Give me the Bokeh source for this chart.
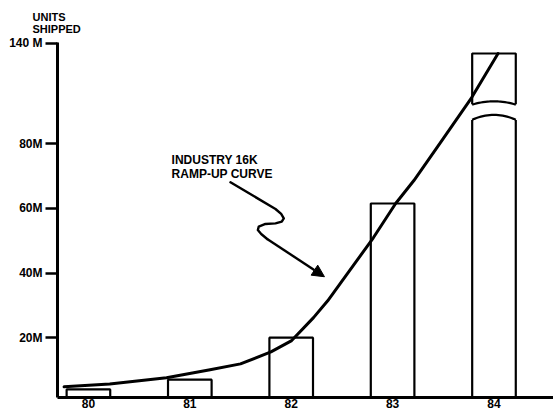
from bokeh.plotting import figure
from bokeh.models import Range1d, FixedTicker, Label, Arrow, NormalHead, ColumnDataSource
from bokeh.embed import file_html
from bokeh.resources import INLINE

# ---------------- data ----------------
years = [80, 81, 82, 83, 84]
year_labels = ["80", "81", "82", "83", "84"]
units_shipped_m = [4, 7, 20, 61.5, 134]          # bar heights, millions

# industry 16K ramp-up curve (year, millions)
curve_years = [79.76, 80.21, 80.77, 81.2, 81.5, 81.8, 82.0, 82.22, 82.36,
               82.49, 82.81, 83.03, 83.21, 83.47, 83.78, 84.04]
curve_units_m = [4.8, 5.7, 7.6, 10.1, 11.9, 15.6, 19.0, 26.2, 31.4,
                 37.0, 50.9, 61.5, 68.6, 80.5, 107.6, 134]

y_tick_values_m = [20, 40, 60, 80, 140]
y_tick_labels = ["20M", "40M", "60M", "80M", "140 M"]

# ---------------- broken-axis mapping ----------------
BREAK_AT = 80


def to_axis(v):
    if v <= BREAK_AT:
        return v
    return BREAK_AT + (v - BREAK_AT) * 31 / 60


# ---------------- figure ----------------
FONT = "Liberation Sans"
p = figure(width=553, height=410,
           x_range=Range1d(79.695, 84.587), y_range=Range1d(1.5, 111.3),
           toolbar_location=None, output_backend="svg",
           min_border_left=57, min_border_right=0,
           min_border_top=42, min_border_bottom=0)
p.outline_line_color = None
p.background_fill_color = "white"
p.border_fill_color = "white"
p.grid.visible = False

# axis title
p.title.text = "UNITS\nSHIPPED"
p.title.align = "left"
p.title.vertical_align = "top"
p.title.offset = -25
p.title.standoff = 12
p.title.text_font = FONT
p.title.text_font_style = "bold"
p.title.text_font_size = "11px"
p.title.text_color = "black"

# x axis
p.xaxis.ticker = FixedTicker(ticks=years)
p.xaxis.major_label_overrides = {y: lab for y, lab in zip(years, year_labels)}
p.xaxis.axis_line_width = 3
p.xaxis.axis_line_color = "black"
p.xaxis.major_tick_out = 0
p.xaxis.major_tick_in = 0
p.xaxis.minor_tick_out = 0
p.xaxis.minor_tick_in = 0
p.xaxis.major_label_standoff = 1
p.xaxis.major_label_text_font = FONT
p.xaxis.major_label_text_font_style = "bold"
p.xaxis.major_label_text_font_size = "12px"
p.xaxis.major_label_text_color = "black"

# y axis
y_ticks = [to_axis(v) for v in y_tick_values_m]
p.yaxis.ticker = FixedTicker(ticks=y_ticks)
p.yaxis.major_label_overrides = {t: lab for t, lab in zip(y_ticks, y_tick_labels)}
p.yaxis.axis_line_width = 3
p.yaxis.axis_line_color = "black"
p.yaxis.major_tick_out = 12
p.yaxis.major_tick_in = 0
p.yaxis.major_tick_line_width = 2.5
p.yaxis.minor_tick_out = 0
p.yaxis.minor_tick_in = 0
p.yaxis.major_label_standoff = 3
p.yaxis.major_label_text_font = FONT
p.yaxis.major_label_text_font_style = "bold"
p.yaxis.major_label_text_font_size = "12px"
p.yaxis.major_label_text_color = "black"

# ---------------- bars ----------------
BAR_W = 0.43
bar_src = ColumnDataSource(dict(
    left=[y - BAR_W / 2 for y in years],
    right=[y + BAR_W / 2 for y in years],
    top=[to_axis(v) for v in units_shipped_m],
    bottom=[0] * len(years),
))
p.quad(left="left", right="right", top="top", bottom="bottom", source=bar_src,
       fill_color="white", line_color="black", line_width=2.2)

# break marks on bars that exceed the break
LOW_EDGE, LOW_MID = 87.4, 88.9
HIGH_EDGE, HIGH_MID = 92.1, 93.1
N = 20
gap_xs, gap_ys, arc_xs, arc_ys = [], [], [], []
for yr, v in zip(years, units_shipped_m):
    if v <= BREAK_AT:
        continue
    x0, x1 = yr - BAR_W / 2, yr + BAR_W / 2
    ts = [-1 + 2 * i / N for i in range(N + 1)]
    xs = [yr + t * BAR_W / 2 for t in ts]
    low = [LOW_EDGE + (LOW_MID - LOW_EDGE) * (1 - t * t) for t in ts]
    high = [HIGH_EDGE + (HIGH_MID - HIGH_EDGE) * (1 - t * t) for t in ts]
    pad = 0.03
    gx = [x0 - pad] + xs + [x1 + pad, x1 + pad] + xs[::-1] + [x0 - pad]
    gy = [LOW_EDGE - 0.3] + low + [LOW_EDGE - 0.3, HIGH_EDGE + 0.3] + high[::-1] + [HIGH_EDGE + 0.3]
    gap_xs.append(gx)
    gap_ys.append(gy)
    arc_xs += [xs, xs]
    arc_ys += [low, high]

p.patches(gap_xs, gap_ys, fill_color="white", line_color=None)
p.multi_line(arc_xs, arc_ys, line_color="black", line_width=2.2)

# ---------------- ramp-up curve ----------------
p.line(curve_years, [to_axis(v) for v in curve_units_m],
       line_color="black", line_width=3, line_join="round", line_cap="round")

# ---------------- annotation ----------------
squiggle_x = [81.401, 81.845, 81.901, 81.927, 81.907, 81.845, 81.746, 81.680,
              81.671, 81.704, 81.763]
squiggle_y = [68.05, 59.81, 58.27, 56.90, 55.88, 55.36, 55.17, 54.33,
              53.31, 52.07, 50.53]
p.line(squiggle_x, squiggle_y, line_color="black", line_width=2.4,
       line_join="round", line_cap="round")
p.add_layout(Arrow(end=NormalHead(size=12, fill_color="black", line_color="black"),
                   x_start=81.763, y_start=50.53, x_end=82.328, y_end=38.85,
                   line_color="black", line_width=2.4))

for txt, yy in [("INDUSTRY 16K", 75.08), ("RAMP-UP CURVE", 70.74)]:
    p.add_layout(Label(x=80.82, y=yy, text=txt, text_font=FONT,
                       text_font_style="bold", text_font_size="12px",
                       text_baseline="alphabetic", text_align="left",
                       text_color="black"))

open("out.html", "w").write(file_html(p, INLINE))
